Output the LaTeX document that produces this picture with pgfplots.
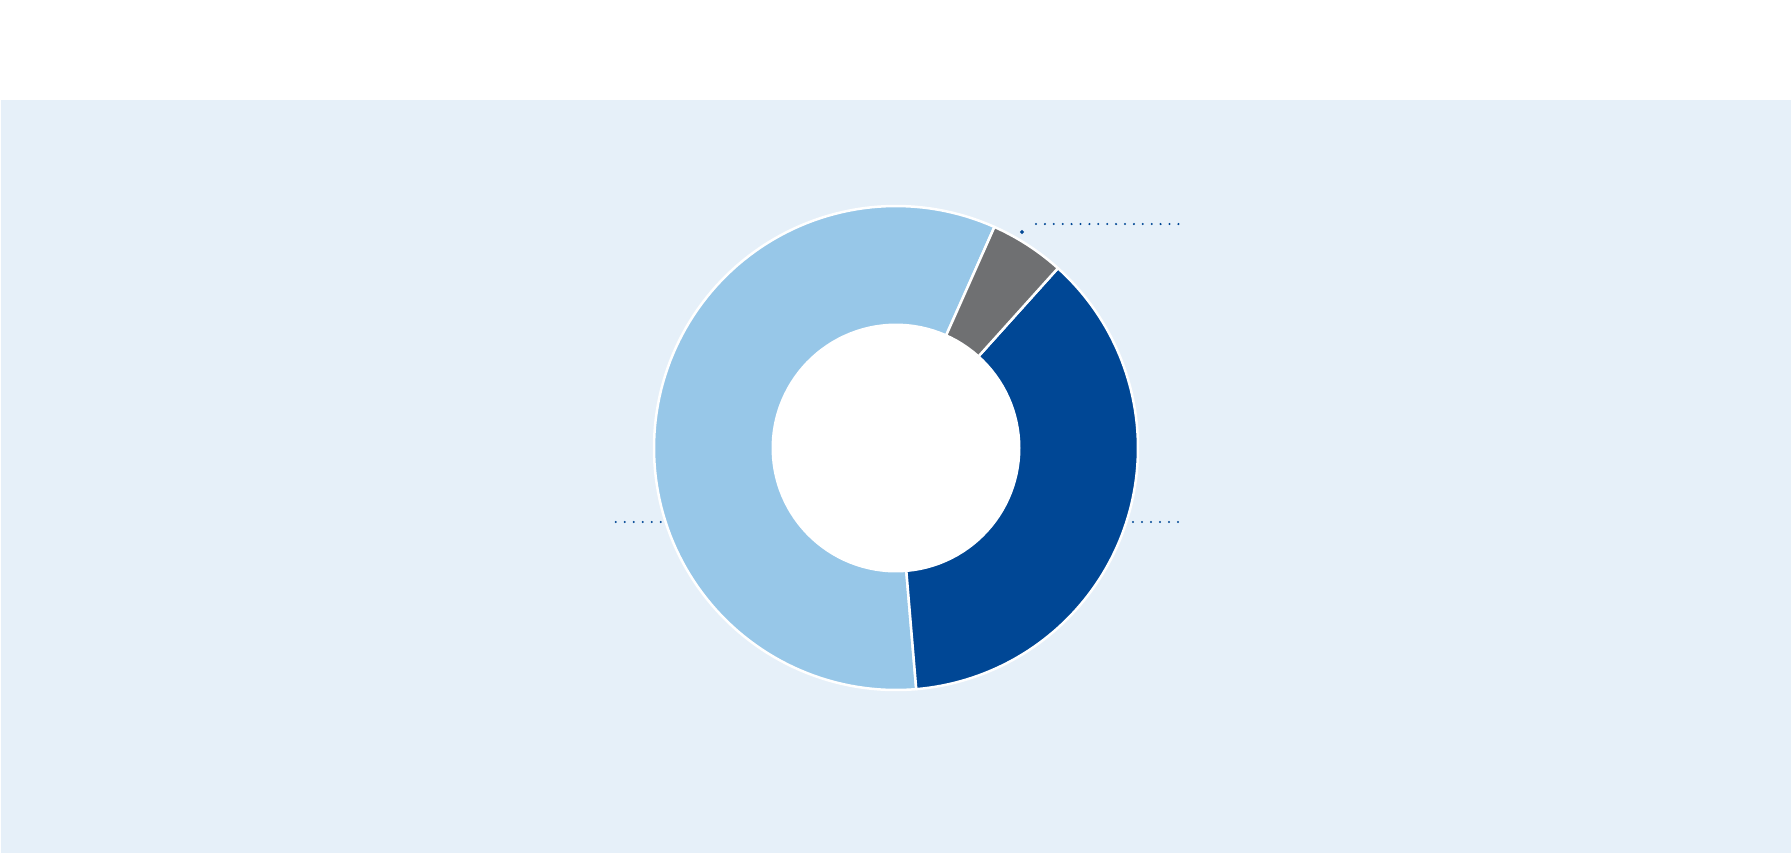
\documentclass[border=0pt]{standalone}
\usepackage{pgfplots}
\pgfplotsset{compat=1.18}

\definecolor{bgblue}{HTML}{E6F0F9}
\definecolor{sky}{HTML}{97C7E8}
\definecolor{slate}{HTML}{6F7072}
\definecolor{navy}{HTML}{004795}

% slice shares in percent, laid out counter-clockwise from \startang
\def\shareA{58}   % light blue
\def\shareB{37}   % dark blue
\def\shareC{5}    % grey
\def\startang{66}

\pgfmathsetmacro\aA{\startang}
\pgfmathsetmacro\aB{\aA+3.6*\shareA}
\pgfmathsetmacro\aC{\aB+3.6*\shareB}
\pgfmathsetmacro\aD{\aC+3.6*\shareC}

% ring geometry in pixel units
\def\cx{896}
\def\cy{448}
\def\Rout{242}
\def\Rin{124.5}

\begin{document}
\begin{tikzpicture}
\begin{axis}[
  name=ax,
  scale only axis,
  width=17.91cm, height=8.53cm,
  xmin=0, xmax=1791, ymin=0, ymax=853,
  y dir=reverse,
  axis lines=none,
  xtick=\empty, ytick=\empty,
  clip=true,
]
% page and panel background
\addplot[fill=white, draw=none] coordinates {(0,0) (1791,0) (1791,853) (0,853)} -- cycle;
\addplot[fill=bgblue, draw=none] coordinates {(1,99.5) (1791,99.5) (1791,853) (1,853)} -- cycle;

% slices
\addplot[fill=sky, draw=white, line width=0.25mm, line join=round, domain=\aA:\aB, samples=120]
  ({\cx+\Rout*cos(x)}, {\cy-\Rout*sin(x)}) -- (\cx,\cy) -- cycle;
\addplot[fill=navy, draw=white, line width=0.25mm, line join=round, domain=\aB:\aC, samples=90]
  ({\cx+\Rout*cos(x)}, {\cy-\Rout*sin(x)}) -- (\cx,\cy) -- cycle;
\addplot[fill=slate, draw=white, line width=0.25mm, line join=round, domain=\aC:\aD, samples=20]
  ({\cx+\Rout*cos(x)}, {\cy-\Rout*sin(x)}) -- (\cx,\cy) -- cycle;

% donut hole
\addplot[fill=white, draw=none, domain=0:360, samples=120]
  ({\cx+\Rin*cos(x)}, {\cy-\Rin*sin(x)}) -- cycle;

% label connectors
\addplot[navy, line width=0.23mm, line cap=round, dash pattern=on 0pt off 0.89mm]
  coordinates {(1036,224) (1179,224)};
\addplot[navy, only marks, mark=*, mark size=0.33pt, mark options={draw=none, fill=navy}]
  coordinates {(1022,232)};
\addplot[navy, line width=0.23mm, line cap=round, dash pattern=on 0pt off 0.9mm]
  coordinates {(1133,522) (1178.5,522)};
\addplot[navy, line width=0.23mm, line cap=round, dash pattern=on 0pt off 0.9mm]
  coordinates {(615.7,522) (661.2,522)};
\end{axis}
\pgfresetboundingbox
\path[use as bounding box] (ax.south west) rectangle (ax.north east);
\end{tikzpicture}
\end{document}
